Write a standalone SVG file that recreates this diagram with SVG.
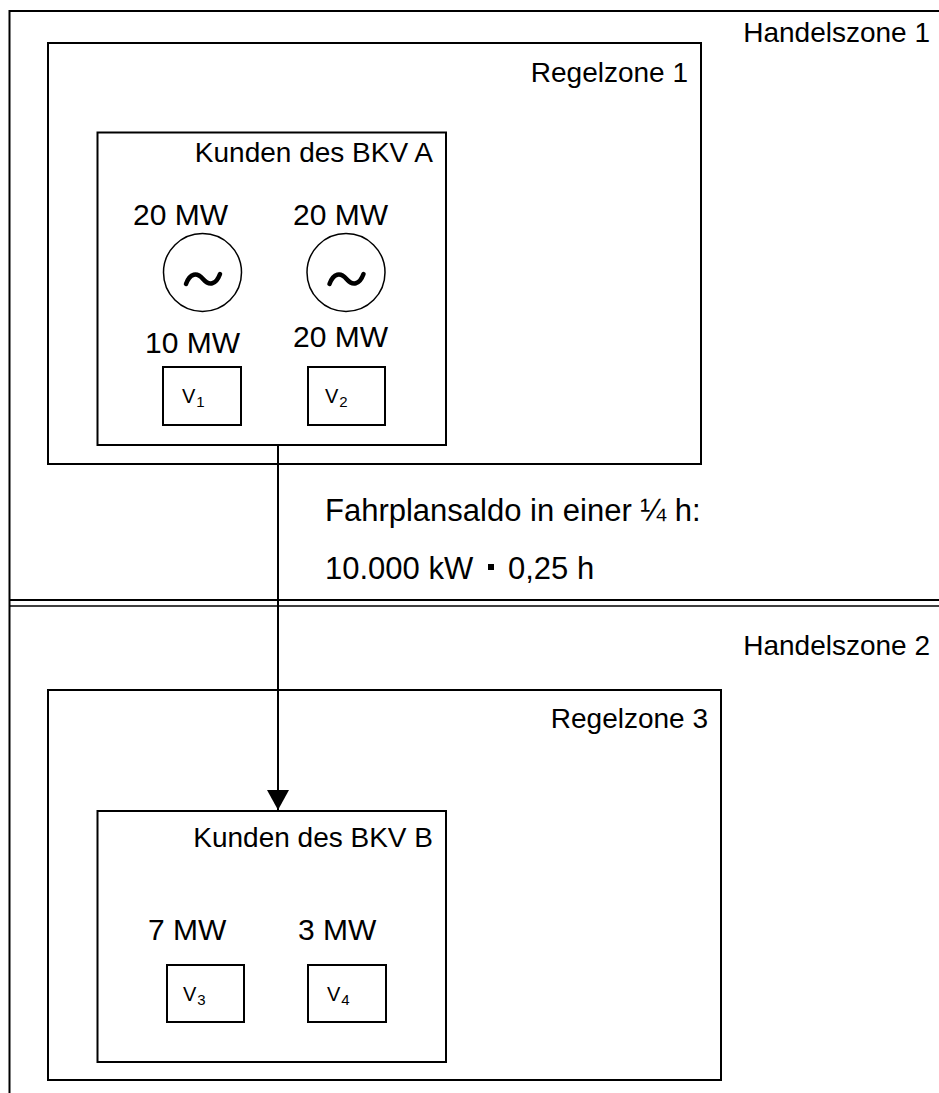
<svg xmlns="http://www.w3.org/2000/svg" width="939" height="1093" viewBox="0 0 939 1093">
<style>
.box{fill:none;stroke:#000;stroke-width:2}
.ln{fill:none;stroke:#000}
text{font-family:"Liberation Sans",Arial,sans-serif;fill:#000}
.lbl{font-size:28px}
.big{font-size:30px}
.note{font-size:31px}
.v{font-size:20px}
.sub{font-size:15px}
.tilde{fill:none;stroke:#000;stroke-width:4.5;stroke-linecap:round}
</style>
<defs>
<marker id="arr" markerWidth="20" markerHeight="22" refX="20" refY="11" orient="auto" markerUnits="userSpaceOnUse" viewBox="0 0 20 22">
<path d="M0,0 L20,11 L0,22 Z" fill="#000"/>
</marker>
</defs>
<rect width="939" height="1093" fill="#fff"/>

<g id="handelszone1">
<path class="ln" stroke-width="2" d="M939,11 H9.5 V1093"/>
<text class="lbl" x="930" y="42" text-anchor="end">Handelszone 1</text>
</g>

<g id="zonengrenze">
<line class="ln" stroke-width="2" x1="9" y1="600" x2="939" y2="600"/>
<line class="ln" stroke-width="1.5" x1="9" y1="606" x2="939" y2="606"/>
</g>

<g id="handelszone2">
<text class="lbl" x="930" y="655" text-anchor="end">Handelszone 2</text>
</g>

<g id="regelzone1">
<rect class="box" x="48" y="43" width="653" height="421"/>
<text class="lbl" x="688" y="82" text-anchor="end">Regelzone 1</text>
</g>

<g id="kunden-a">
<rect class="box" x="97.5" y="132.5" width="348.5" height="312.5"/>
<text class="lbl" x="433" y="162" text-anchor="end" font-size="29.5">Kunden des BKV A</text>
</g>

<g id="generator1">
<text class="big" x="133" y="225">20 MW</text>
<circle cx="202.5" cy="272.5" r="39" fill="none" stroke="#000" stroke-width="1.5"/>
<path class="tilde" d="M186,284 C190,273 197,272 203,279 C209,286 216,285 220,274"/>
</g>

<g id="generator2">
<text class="big" x="293" y="225">20 MW</text>
<circle cx="346" cy="272.5" r="39" fill="none" stroke="#000" stroke-width="1.5"/>
<path class="tilde" d="M329.5,284 C333.5,273 340.5,272 346.5,279 C352.5,286 359.5,285 363.5,274"/>
</g>

<g id="v1">
<text class="big" x="145" y="353">10 MW</text>
<rect class="box" x="163" y="367" width="78" height="58" stroke-width="1.5"/>
<text class="v" x="182" y="403">V<tspan class="sub" dx="1" dy="4">1</tspan></text>
</g>

<g id="v2">
<text class="big" x="293" y="347">20 MW</text>
<rect class="box" x="308" y="367" width="77" height="58" stroke-width="1.5"/>
<text class="v" x="325" y="403">V<tspan class="sub" dx="1" dy="4">2</tspan></text>
</g>

<g id="fahrplansaldo">
<text class="note" x="325" y="521">Fahrplansaldo in einer ¼ h:</text>
<text class="note" x="325" y="579">10.000 kW</text>
<rect x="488" y="564" width="6" height="6" fill="#000"/>
<text class="note" x="508" y="579">0,25 h</text>
</g>

<g id="regelzone3">
<rect class="box" x="48" y="690" width="673" height="390"/>
<text class="lbl" x="708" y="728" text-anchor="end">Regelzone 3</text>
</g>

<g id="kunden-b">
<rect class="box" x="97.5" y="811" width="348.5" height="251"/>
<text class="lbl" x="433" y="847" text-anchor="end" font-size="29.5">Kunden des BKV B</text>
</g>

<g id="v3">
<text class="big" x="148" y="940">7 MW</text>
<rect class="box" x="167" y="965" width="77" height="57" stroke-width="1.5"/>
<text class="v" x="183" y="1001">V<tspan class="sub" dx="1" dy="4">3</tspan></text>
</g>

<g id="v4">
<text class="big" x="298" y="940">3 MW</text>
<rect class="box" x="308" y="965" width="78" height="57" stroke-width="1.5"/>
<text class="v" x="327" y="1001">V<tspan class="sub" dx="1" dy="4">4</tspan></text>
</g>

<g id="connectors">
<line class="ln" stroke-width="2" x1="278" y1="445" x2="278" y2="810" marker-end="url(#arr)"/>
</g>
</svg>
